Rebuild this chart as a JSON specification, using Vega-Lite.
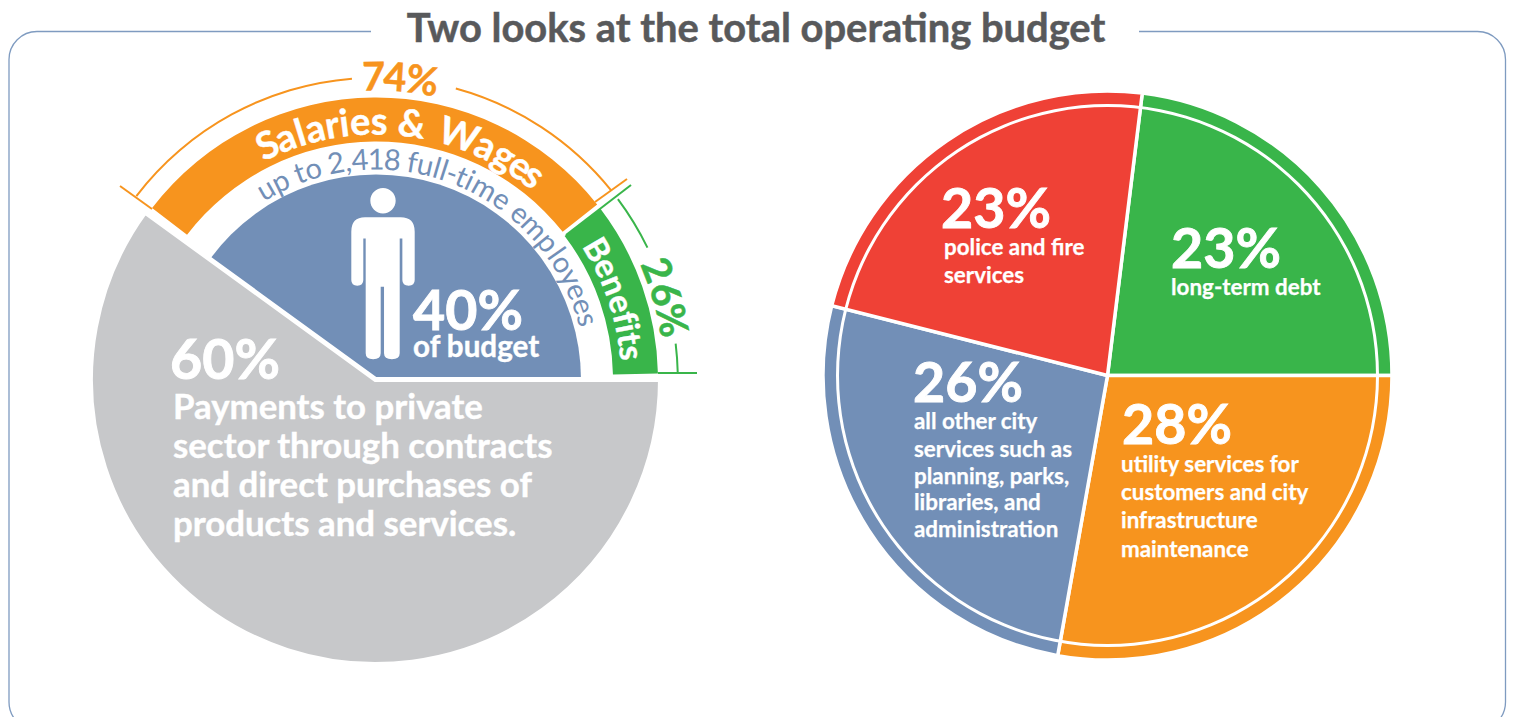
{
"$schema":"https://vega.github.io/schema/vega-lite/v6.json",
"width":1523,"height":717,"padding":0,"autosize":{"type":"none"},"background":"white",
"config":{"view":{"stroke":null},"font":"Lato"},
"datasets":{
"frame":[{"x0":9,"x1":1505.5,"y0":31.5,"y1":730}],
"gap":[{"x0":371,"x1":1139,"y0":20,"y1":42}],
"title":[{"t":"Two looks at the total operating budget","x":756,"y":42}],
"parts":[{"part":"Salaries & Wages","start":-14.6,"end":14.35},{"part":"Benefits","start":14.65,"end":24.66},{"part":"Employees","start":-15,"end":25},{"part":"Private sector","start":25,"end":85}],
"services":[{"service":"long-term debt","start":1.95,"end":25},{"service":"utility services","start":25,"end":52.8},{"service":"all other city services","start":52.8,"end":78.95},{"service":"police and fire services","start":78.95,"end":101.95}],
"brackets":[{"b":"74","start":-14.6,"end":-1.27},{"b":"74","start":4.26,"end":14.2},{"b":"26","start":14.8,"end":17.8},{"b":"26","start":23.1,"end":24.6}],
"ticks":[{"b":"74","x":120,"y":186,"x2":152,"y2":209},{"b":"74","x":627,"y":179,"x2":595,"y2":202},{"b":"26","x":631,"y":185,"x2":566,"y2":235},{"b":"26","x":658,"y":373,"x2":697,"y2":373}],
"person":[{"who":"employee","x":383,"y":273.7}],
"big":[{"t":"60%","x":170,"y":379},{"t":"40%","x":413,"y":330},{"t":"23%","x":941,"y":228},{"t":"23%","x":1171,"y":268},{"t":"26%","x":913,"y":402},{"t":"28%","x":1122,"y":444}],
"para":[{"t":"Payments to private","x":173,"y":419},{"t":"sector through contracts","x":173,"y":458},{"t":"and direct purchases of","x":173,"y":497},{"t":"products and services.","x":173,"y":536}],
"budgetNote":[{"t":"of budget","x":413,"y":357}],
"small":[{"t":"police and fire","x":944,"y":255},{"t":"services","x":944,"y":283},{"t":"long-term debt","x":1171,"y":295},{"t":"all other city","x":914,"y":429},{"t":"services such as","x":914,"y":457},{"t":"planning, parks,","x":914,"y":484},{"t":"libraries, and","x":914,"y":510},{"t":"administration","x":914,"y":537},{"t":"utility services for","x":1121,"y":472},{"t":"customers and city","x":1121,"y":500},{"t":"infrastructure","x":1121,"y":528},{"t":"maintenance","x":1121,"y":557}],
"salaries":[{"c":"S","pos":-6.9},{"c":"a","pos":-5.7},{"c":"l","pos":-4.75},{"c":"a","pos":-3.8},{"c":"r","pos":-2.72},{"c":"i","pos":-1.96},{"c":"e","pos":-0.98},{"c":"s","pos":0.2},{"c":"&","pos":2.23},{"c":"W","pos":5.2},{"c":"a","pos":7.0},{"c":"g","pos":8.3},{"c":"e","pos":9.5},{"c":"s","pos":10.47}],
"employees":[{"c":"u","pos":-8.36},{"c":"p","pos":-7.15},{"c":"t","pos":-5.63},{"c":"o","pos":-4.63},{"c":"2","pos":-2.91},{"c":",","pos":-2.04},{"c":"4","pos":-1.16},{"c":"1","pos":0.01},{"c":"8","pos":1.19},{"c":"f","pos":2.65},{"c":"u","pos":3.61},{"c":"l","pos":4.48},{"c":"l","pos":5.01},{"c":"-","pos":5.63},{"c":"t","pos":6.37},{"c":"i","pos":7.02},{"c":"m","pos":8.21},{"c":"e","pos":9.71},{"c":"e","pos":11.39},{"c":"m","pos":12.8},{"c":"p","pos":14.3},{"c":"l","pos":15.29},{"c":"o","pos":16.17},{"c":"y","pos":17.3},{"c":"e","pos":18.4},{"c":"e","pos":19.56},{"c":"s","pos":20.58}],
"benefits":[{"c":"B","pos":16.56},{"c":"e","pos":17.79},{"c":"n","pos":18.99},{"c":"e","pos":20.19},{"c":"f","pos":21.14},{"c":"i","pos":21.79},{"c":"t","pos":22.48},{"c":"s","pos":23.34}],
"p74":[{"c":"7","pos":-0.12},{"c":"4","pos":1.0},{"c":"%","pos":2.45}],
"p26":[{"c":"2","pos":19.08},{"c":"6","pos":20.44},{"c":"%","pos":21.86}]
},
"layer":[
{"data":{"name":"frame"},"mark":{"type":"rect","cornerRadius":28,"fill":null,"stroke":"#7f9bc0","strokeWidth":1.3,"clip":true},
"encoding":{"x":{"field":"x0","type":"quantitative","scale":{"domain":[0,1523],"range":[0,1523],"nice":false,"zero":false},"axis":null},"x2":{"field":"x1"},"y":{"field":"y0","type":"quantitative","scale":{"domain":[0,717],"range":[0,717],"nice":false,"zero":false},"axis":null},"y2":{"field":"y1"}}},
{"data":{"name":"gap"},"mark":{"type":"rect","fill":"white"},
"encoding":{"x":{"field":"x0","type":"quantitative","scale":{"domain":[0,1523],"range":[0,1523],"nice":false,"zero":false},"axis":null},"x2":{"field":"x1"},"y":{"field":"y0","type":"quantitative","scale":{"domain":[0,717],"range":[0,717],"nice":false,"zero":false},"axis":null},"y2":{"field":"y1"}}},
{"data":{"name":"title"},"mark":{"type":"text","font":"Lato","fontWeight":"bold","fontSize":39.9,"fill":"#58595b","stroke":"#58595b","strokeWidth":0.5,"align":"center","baseline":"alphabetic"},
"encoding":{"x":{"field":"x","type":"quantitative","scale":{"domain":[0,1523],"range":[0,1523],"nice":false,"zero":false},"axis":null},"y":{"field":"y","type":"quantitative","scale":{"domain":[0,717],"range":[0,717],"nice":false,"zero":false},"axis":null},"text":{"field":"t"}}},
{"data":{"name":"services"},"mark":{"type":"arc","outerRadius":284.5,"innerRadius":0,"stroke":"white","strokeWidth":3.5},
"encoding":{"x":{"datum":1107.5,"type":"quantitative","scale":{"domain":[0,1523],"range":[0,1523],"nice":false,"zero":false},"axis":null},"y":{"datum":375.5,"type":"quantitative","scale":{"domain":[0,717],"range":[0,717],"nice":false,"zero":false},"axis":null},
"theta":{"field":"start","type":"quantitative","stack":null,"scale":{"domain":[0,100],"range":[0,6.283185]}},"theta2":{"field":"end"},
"color":{"field":"service","type":"nominal","legend":null,"scale":{"domain":["long-term debt","utility services","all other city services","police and fire services"],"range":["#39b54a","#f7941e","#728fb7","#ef4136"]}}}},
{"data":{"values":[{"ring":"inner"}]},"mark":{"type":"arc","outerRadius":271.5,"innerRadius":268.5,"fill":"white"},
"encoding":{"x":{"datum":1107.5,"type":"quantitative","scale":{"domain":[0,1523],"range":[0,1523],"nice":false,"zero":false},"axis":null},"y":{"datum":375.5,"type":"quantitative","scale":{"domain":[0,717],"range":[0,717],"nice":false,"zero":false},"axis":null},
"theta":{"datum":0,"type":"quantitative","scale":{"domain":[0,100],"range":[0,6.283185]}},"theta2":{"datum":100}}},
{"data":{"name":"parts"},"transform":[{"filter":"datum.part==='Salaries & Wages'"}],"mark":{"type":"arc","outerRadius":282,"innerRadius":238,"fill":"#f7941e"},
"encoding":{"x":{"datum":376,"type":"quantitative","scale":{"domain":[0,1523],"range":[0,1523],"nice":false,"zero":false},"axis":null},"y":{"datum":379.5,"type":"quantitative","scale":{"domain":[0,717],"range":[0,717],"nice":false,"zero":false},"axis":null},"theta":{"field":"start","type":"quantitative","stack":null,"scale":{"domain":[0,100],"range":[0,6.283185]}},"theta2":{"field":"end"}}},
{"data":{"name":"parts"},"transform":[{"filter":"datum.part==='Benefits'"}],"mark":{"type":"arc","outerRadius":282,"innerRadius":237,"fill":"#39b54a"},
"encoding":{"x":{"datum":376,"type":"quantitative","scale":{"domain":[0,1523],"range":[0,1523],"nice":false,"zero":false},"axis":null},"y":{"datum":379.5,"type":"quantitative","scale":{"domain":[0,717],"range":[0,717],"nice":false,"zero":false},"axis":null},"theta":{"field":"start","type":"quantitative","stack":null,"scale":{"domain":[0,100],"range":[0,6.283185]}},"theta2":{"field":"end"}}},
{"data":{"name":"parts"},"transform":[{"filter":"datum.part==='Employees'"}],"mark":{"type":"arc","outerRadius":205,"innerRadius":0,"fill":"#728fb7"},
"encoding":{"x":{"datum":376,"type":"quantitative","scale":{"domain":[0,1523],"range":[0,1523],"nice":false,"zero":false},"axis":null},"y":{"datum":379.5,"type":"quantitative","scale":{"domain":[0,717],"range":[0,717],"nice":false,"zero":false},"axis":null},"theta":{"field":"start","type":"quantitative","stack":null,"scale":{"domain":[0,100],"range":[0,6.283185]}},"theta2":{"field":"end"}}},
{"data":{"name":"parts"},"transform":[{"filter":"datum.part==='Private sector'"}],"mark":{"type":"arc","outerRadius":285,"innerRadius":0,"fill":"#c7c8ca","stroke":"white","strokeWidth":5},
"encoding":{"x":{"datum":375.5,"type":"quantitative","scale":{"domain":[0,1523],"range":[0,1523],"nice":false,"zero":false},"axis":null},"y":{"datum":379.5,"type":"quantitative","scale":{"domain":[0,717],"range":[0,717],"nice":false,"zero":false},"axis":null},"theta":{"field":"start","type":"quantitative","stack":null,"scale":{"domain":[0,100],"range":[0,6.283185]}},"theta2":{"field":"end"}}},
{"data":{"name":"brackets"},"transform":[{"filter":"datum.b==='74'"}],"mark":{"type":"arc","outerRadius":302.8,"innerRadius":300.8,"fill":"#f7941e"},
"encoding":{"x":{"datum":376,"type":"quantitative","scale":{"domain":[0,1523],"range":[0,1523],"nice":false,"zero":false},"axis":null},"y":{"datum":379.5,"type":"quantitative","scale":{"domain":[0,717],"range":[0,717],"nice":false,"zero":false},"axis":null},"theta":{"field":"start","type":"quantitative","stack":null,"scale":{"domain":[0,100],"range":[0,6.283185]}},"theta2":{"field":"end"}}},
{"data":{"name":"brackets"},"transform":[{"filter":"datum.b==='26'"}],"mark":{"type":"arc","outerRadius":302.8,"innerRadius":300.8,"fill":"#39b54a"},
"encoding":{"x":{"datum":376,"type":"quantitative","scale":{"domain":[0,1523],"range":[0,1523],"nice":false,"zero":false},"axis":null},"y":{"datum":379.5,"type":"quantitative","scale":{"domain":[0,717],"range":[0,717],"nice":false,"zero":false},"axis":null},"theta":{"field":"start","type":"quantitative","stack":null,"scale":{"domain":[0,100],"range":[0,6.283185]}},"theta2":{"field":"end"}}},
{"data":{"name":"ticks"},"transform":[{"filter":"datum.b==='74'"}],"mark":{"type":"rule","stroke":"#f7941e","strokeWidth":2},
"encoding":{"x":{"field":"x","type":"quantitative","scale":{"domain":[0,1523],"range":[0,1523],"nice":false,"zero":false},"axis":null},"y":{"field":"y","type":"quantitative","scale":{"domain":[0,717],"range":[0,717],"nice":false,"zero":false},"axis":null},"x2":{"field":"x2"},"y2":{"field":"y2"}}},
{"data":{"name":"ticks"},"transform":[{"filter":"datum.b==='26'"}],"mark":{"type":"rule","stroke":"#39b54a","strokeWidth":2},
"encoding":{"x":{"field":"x","type":"quantitative","scale":{"domain":[0,1523],"range":[0,1523],"nice":false,"zero":false},"axis":null},"y":{"field":"y","type":"quantitative","scale":{"domain":[0,717],"range":[0,717],"nice":false,"zero":false},"axis":null},"x2":{"field":"x2"},"y2":{"field":"y2"}}},
{"data":{"name":"person"},"mark":{"type":"point","filled":true,"fill":"white","opacity":1,"size":29350,"shape":"M-0.21,-0.658 L0.206,-0.658 Q0.37,-0.658 0.37,-0.49 L0.37,0.074 Q0.37,0.14 0.3,0.14 Q0.226,0.14 0.226,0.074 L0.226,-0.412 L0.195,-0.412 L0.195,0.93 Q0.195,1 0.104,1 Q0.012,1 0.012,0.93 L0.012,0.152 L-0.027,0.152 L-0.027,0.93 Q-0.027,1 -0.115,1 Q-0.202,1 -0.202,0.93 L-0.202,-0.412 L-0.23,-0.412 L-0.23,0.074 Q-0.23,0.14 -0.3,0.14 Q-0.37,0.14 -0.37,0.074 L-0.37,-0.49 Q-0.37,-0.658 -0.21,-0.658 Z M-0.148,-0.852 A0.148,0.148 0 1,1 0.148,-0.852 A0.148,0.148 0 1,1 -0.148,-0.852 Z"},
"encoding":{"x":{"field":"x","type":"quantitative","scale":{"domain":[0,1523],"range":[0,1523],"nice":false,"zero":false},"axis":null},"y":{"field":"y","type":"quantitative","scale":{"domain":[0,717],"range":[0,717],"nice":false,"zero":false},"axis":null}}},
{"data":{"name":"big"},"mark":{"type":"text","font":"Lato","fontWeight":"bold","fontSize":55.5,"fill":"white","stroke":"white","strokeWidth":0.9,"align":"left","baseline":"alphabetic"},
"encoding":{"x":{"field":"x","type":"quantitative","scale":{"domain":[0,1523],"range":[0,1523],"nice":false,"zero":false},"axis":null},"y":{"field":"y","type":"quantitative","scale":{"domain":[0,717],"range":[0,717],"nice":false,"zero":false},"axis":null},"text":{"field":"t"}}},
{"data":{"name":"para"},"mark":{"type":"text","font":"Lato","fontWeight":"bold","fontSize":34.8,"fill":"white","stroke":"white","strokeWidth":0.4,"align":"left","baseline":"alphabetic"},
"encoding":{"x":{"field":"x","type":"quantitative","scale":{"domain":[0,1523],"range":[0,1523],"nice":false,"zero":false},"axis":null},"y":{"field":"y","type":"quantitative","scale":{"domain":[0,717],"range":[0,717],"nice":false,"zero":false},"axis":null},"text":{"field":"t"}}},
{"data":{"name":"budgetNote"},"mark":{"type":"text","font":"Lato","fontWeight":"bold","fontSize":29.6,"fill":"white","stroke":"white","strokeWidth":0.4,"align":"left","baseline":"alphabetic"},
"encoding":{"x":{"field":"x","type":"quantitative","scale":{"domain":[0,1523],"range":[0,1523],"nice":false,"zero":false},"axis":null},"y":{"field":"y","type":"quantitative","scale":{"domain":[0,717],"range":[0,717],"nice":false,"zero":false},"axis":null},"text":{"field":"t"}}},
{"data":{"name":"small"},"mark":{"type":"text","font":"Lato","fontWeight":"bold","fontSize":22.4,"fill":"white","stroke":"white","strokeWidth":0.25,"align":"left","baseline":"alphabetic"},
"encoding":{"x":{"field":"x","type":"quantitative","scale":{"domain":[0,1523],"range":[0,1523],"nice":false,"zero":false},"axis":null},"y":{"field":"y","type":"quantitative","scale":{"domain":[0,717],"range":[0,717],"nice":false,"zero":false},"axis":null},"text":{"field":"t"}}},
{"data":{"name":"salaries"},"mark":{"type":"text","font":"Lato","fontWeight":"bold","fontSize":38,"fill":"white","stroke":"white","strokeWidth":0.4,"align":"center","baseline":"alphabetic","radius":245},
"encoding":{"x":{"datum":376,"type":"quantitative","scale":{"domain":[0,1523],"range":[0,1523],"nice":false,"zero":false},"axis":null},"y":{"datum":379.5,"type":"quantitative","scale":{"domain":[0,717],"range":[0,717],"nice":false,"zero":false},"axis":null},"theta":{"field":"pos","type":"quantitative","stack":null,"scale":{"domain":[0,100],"range":[0,6.283185]}},"angle":{"field":"pos","type":"quantitative","legend":null,"scale":{"domain":[0,100],"range":[0,360]}},"text":{"field":"c"}}},
{"data":{"name":"employees"},"mark":{"type":"text","font":"Lato","fontWeight":"normal","fontSize":29,"fill":"#728fb7","align":"center","baseline":"alphabetic","radius":210},
"encoding":{"x":{"datum":376,"type":"quantitative","scale":{"domain":[0,1523],"range":[0,1523],"nice":false,"zero":false},"axis":null},"y":{"datum":379.5,"type":"quantitative","scale":{"domain":[0,717],"range":[0,717],"nice":false,"zero":false},"axis":null},"theta":{"field":"pos","type":"quantitative","stack":null,"scale":{"domain":[0,100],"range":[0,6.283185]}},"angle":{"field":"pos","type":"quantitative","legend":null,"scale":{"domain":[0,100],"range":[0,360]}},"text":{"field":"c"}}},
{"data":{"name":"benefits"},"mark":{"type":"text","font":"Lato","fontWeight":"bold","fontSize":33,"fill":"white","stroke":"white","strokeWidth":0.4,"align":"center","baseline":"alphabetic","radius":245},
"encoding":{"x":{"datum":376,"type":"quantitative","scale":{"domain":[0,1523],"range":[0,1523],"nice":false,"zero":false},"axis":null},"y":{"datum":379.5,"type":"quantitative","scale":{"domain":[0,717],"range":[0,717],"nice":false,"zero":false},"axis":null},"theta":{"field":"pos","type":"quantitative","stack":null,"scale":{"domain":[0,100],"range":[0,6.283185]}},"angle":{"field":"pos","type":"quantitative","legend":null,"scale":{"domain":[0,100],"range":[0,360]}},"text":{"field":"c"}}},
{"data":{"name":"p74"},"mark":{"type":"text","font":"Lato","fontWeight":"bold","fontSize":39.5,"fill":"#f7941e","stroke":"#f7941e","strokeWidth":0.5,"align":"center","baseline":"alphabetic","radius":289},
"encoding":{"x":{"datum":376,"type":"quantitative","scale":{"domain":[0,1523],"range":[0,1523],"nice":false,"zero":false},"axis":null},"y":{"datum":379.5,"type":"quantitative","scale":{"domain":[0,717],"range":[0,717],"nice":false,"zero":false},"axis":null},"theta":{"field":"pos","type":"quantitative","stack":null,"scale":{"domain":[0,100],"range":[0,6.283185]}},"angle":{"field":"pos","type":"quantitative","legend":null,"scale":{"domain":[0,100],"range":[0,360]}},"text":{"field":"c"}}},
{"data":{"name":"p26"},"mark":{"type":"text","font":"Lato","fontWeight":"bold","fontSize":39.5,"fill":"#39b54a","stroke":"#39b54a","strokeWidth":0.5,"align":"center","baseline":"alphabetic","radius":288},
"encoding":{"x":{"datum":376,"type":"quantitative","scale":{"domain":[0,1523],"range":[0,1523],"nice":false,"zero":false},"axis":null},"y":{"datum":379.5,"type":"quantitative","scale":{"domain":[0,717],"range":[0,717],"nice":false,"zero":false},"axis":null},"theta":{"field":"pos","type":"quantitative","stack":null,"scale":{"domain":[0,100],"range":[0,6.283185]}},"angle":{"field":"pos","type":"quantitative","legend":null,"scale":{"domain":[0,100],"range":[0,360]}},"text":{"field":"c"}}}
]
}
